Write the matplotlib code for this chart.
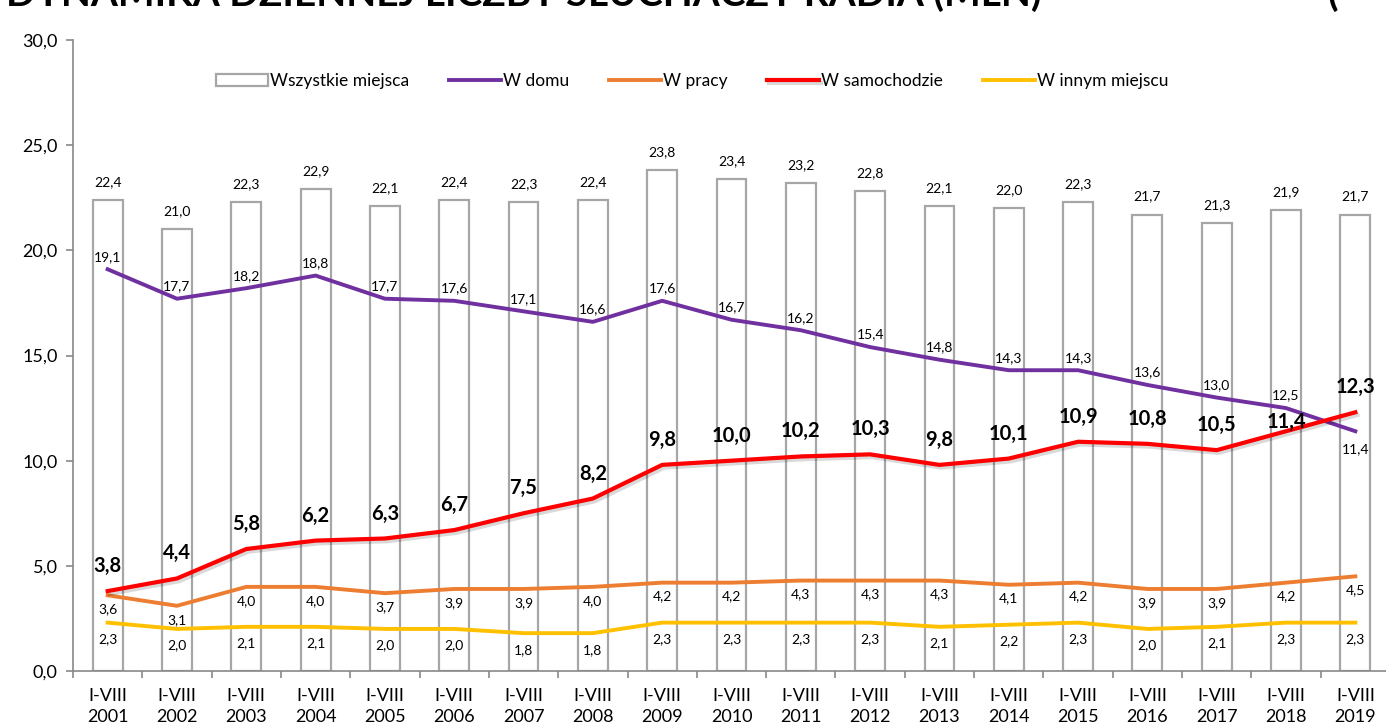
import matplotlib

matplotlib.use("Agg")
import matplotlib.pyplot as plt
import matplotlib.patheffects as pe
import numpy as np

plt.rcParams["font.family"] = ["Lato", "DejaVu Sans"]

years = list(range(2001, 2020))
tick_labels = [f"I-VIII\n{y}" for y in years]
wszystkie = [22.4, 21.0, 22.3, 22.9, 22.1, 22.4, 22.3, 22.4, 23.8, 23.4,
             23.2, 22.8, 22.1, 22.0, 22.3, 21.7, 21.3, 21.9, 21.7]
w_domu = [19.1, 17.7, 18.2, 18.8, 17.7, 17.6, 17.1, 16.6, 17.6, 16.7,
          16.2, 15.4, 14.8, 14.3, 14.3, 13.6, 13.0, 12.5, 11.4]
w_pracy = [3.6, 3.1, 4.0, 4.0, 3.7, 3.9, 3.9, 4.0, 4.2, 4.2,
           4.3, 4.3, 4.3, 4.1, 4.2, 3.9, 3.9, 4.2, 4.5]
w_samochodzie = [3.8, 4.4, 5.8, 6.2, 6.3, 6.7, 7.5, 8.2, 9.8, 10.0,
                 10.2, 10.3, 9.8, 10.1, 10.9, 10.8, 10.5, 11.4, 12.3]
w_innym = [2.3, 2.0, 2.1, 2.1, 2.0, 2.0, 1.8, 1.8, 2.3, 2.3,
           2.3, 2.3, 2.1, 2.2, 2.3, 2.0, 2.1, 2.3, 2.3]


def fmt(v):
    return f"{v:.1f}".replace(".", ",")


fig = plt.figure(figsize=(13.86, 7.26), dpi=100)
ax = fig.add_axes([73 / 1386, 55 / 726, 1317 / 1386, 631 / 726])
x = np.arange(len(years))

ax.bar(x, wszystkie, width=0.43, color="white", edgecolor="#a6a6a6",
       linewidth=1.6, label="Wszystkie miejsca", zorder=1)
ax.plot(x, w_domu, color="#7030a0", lw=2.8, label="W domu", zorder=3)
ax.plot(x, w_pracy, color="#ed7d31", lw=2.8, label="W pracy", zorder=3)
ax.plot(x, w_samochodzie, color="#ff0000", lw=3.0, label="W samochodzie", zorder=4,
        path_effects=[pe.SimpleLineShadow(offset=(1.5, -2), alpha=0.15), pe.Normal()])
ax.plot(x, w_innym, color="#ffc000", lw=2.8, label="W innym miejscu", zorder=3)

small = dict(ha="center", va="center", fontsize=10, textcoords="offset points")
for i in x:
    ax.annotate(fmt(wszystkie[i]), (i, wszystkie[i]), xytext=(0, 13), **small)
    dy = -13 if i == len(x) - 1 else 9
    ax.annotate(fmt(w_domu[i]), (i, w_domu[i]), xytext=(0, dy), **small)
    ax.annotate(fmt(w_pracy[i]), (i, w_pracy[i]), xytext=(0, -10), **small)
    ax.annotate(fmt(w_innym[i]), (i, w_innym[i]), xytext=(0, -12), **small)
    dy = 7 if i == len(x) - 2 else 18
    ax.annotate(fmt(w_samochodzie[i]), (i, w_samochodzie[i]), xytext=(0, dy),
                ha="center", va="center", fontsize=14.5, fontweight="bold",
                textcoords="offset points", zorder=5)

ax.set_xlim(-0.5, len(years) - 0.5)
ax.set_ylim(0, 30)
ax.set_yticks(np.arange(0, 30.1, 5))
ax.set_yticklabels([fmt(v) for v in np.arange(0, 30.1, 5)], fontsize=13)
ax.set_xticks(x)
ax.set_xticklabels(tick_labels, fontsize=13, linespacing=1.4)
ax.set_xticks(np.arange(-0.5, len(years), 1), minor=True)
ax.tick_params(axis="x", which="major", length=0, pad=12)
ax.tick_params(axis="x", which="minor", length=5, color="#898989", width=1.2)
ax.tick_params(axis="y", length=5, color="#898989", width=1.2, pad=6)
for s in ["top", "right"]:
    ax.spines[s].set_visible(False)
for s in ["left", "bottom"]:
    ax.spines[s].set_color("#898989")
    ax.spines[s].set_linewidth(1.2)

handles, labels = ax.get_legend_handles_labels()
order = [4, 0, 1, 2, 3]
ax.legend([handles[i] for i in order], [labels[i] for i in order],
          loc="center", bbox_to_anchor=((692 - 73) / 1317, 0.935),
          ncol=5, frameon=False, fontsize=12.5, handlelength=3.0,
          handletextpad=0.1, columnspacing=2.3)

fig.text(0.004, 1 - 6 / 726, "DYNAMIKA DZIENNEJ LICZBY SŁUCHACZY RADIA (MLN)",
         fontsize=28, fontweight="bold", va="baseline", ha="left")
fig.text(1328 / 1386, 1 - 6 / 726, "(", fontsize=28, fontweight="bold",
         va="baseline", ha="left")

fig.savefig("out.png", dpi=100)
